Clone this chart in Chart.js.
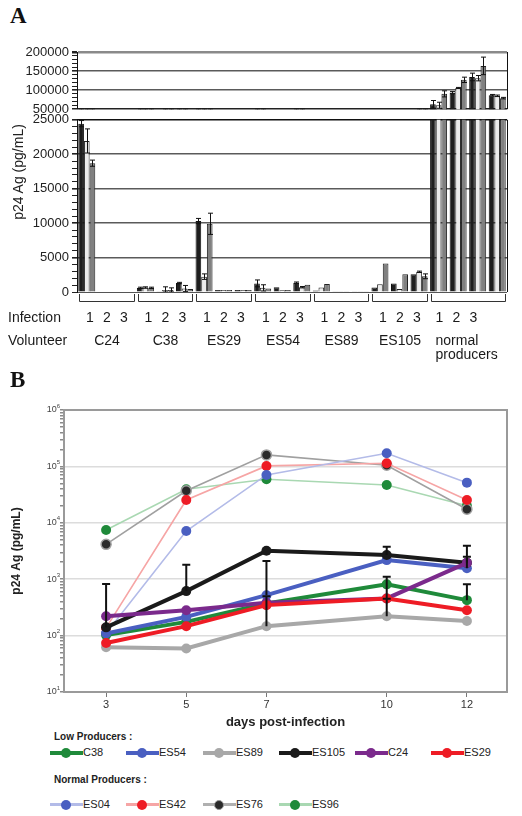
<!DOCTYPE html>
<html><head><meta charset="utf-8">
<script src="https://cdn.jsdelivr.net/npm/chart.js@4.4.1/dist/chart.umd.min.js"></script>
<style>
body{margin:0;background:#fff;width:522px;height:816px;position:relative;overflow:hidden;font-family:"Liberation Sans",Arial,sans-serif;}
canvas{position:absolute;left:0;}
.plab{position:absolute;font-family:"Liberation Serif","DejaVu Serif",serif;font-weight:bold;font-size:23px;color:#111;}
.ytitle{position:absolute;font-size:14px;color:#222;white-space:nowrap;transform-origin:center center;}
.lg{position:absolute;font-size:11px;color:#222;white-space:nowrap;}
.lgh{position:absolute;font-size:10px;font-weight:bold;color:#222;white-space:nowrap;}
.ln{position:absolute;}
.mk{position:absolute;border-radius:50%;}
</style></head><body>
<div class="plab" style="left:10px;top:3px">A</div>
<canvas id="cU" width="522" height="80" style="top:40px"></canvas>
<canvas id="cL" width="522" height="256" style="top:109px"></canvas>
<div class="ytitle" id="yA">p24 Ag (pg/mL)</div>
<div class="plab" style="left:10px;top:367px">B</div>
<canvas id="cB" width="522" height="335" style="top:395px"></canvas>
<div id="legend"></div>
<script>
// ---------- Panel A data ----------
const barCats = ['C24-1','C24-2','C24-3','C38-1','C38-2','C38-3','ES29-1','ES29-2','ES29-3','ES54-1','ES54-2','ES54-3','ES89-1','ES89-2','ES89-3','ES105-1','ES105-2','ES105-3','NP-1','NP-2','NP-3','NP-4'];
const barBlack = [24440,0,0,600,50,1300,10300,300,300,1250,700,1350,200,100,100,650,1230,2560,62800,93600,134600,86700];
const barLight = [21930,0,0,650,300,500,2230,300,300,600,250,700,650,100,100,1140,430,2930,60300,105600,131300,85100];
const barGray  = [18700,0,0,600,300,450,9900,300,300,500,300,1050,1150,100,100,4130,2560,2280,90200,127000,163600,79000];
const errBlack = [450,0,0,100,0,100,380,0,0,500,0,100,0,0,0,0,0,0,10000,3000,10000,2000];
const errLight = [1750,0,0,100,450,450,400,0,0,450,0,100,0,0,0,0,0,100,8000,1500,7000,2000];
const errGray  = [450,0,0,100,300,0,1540,0,0,0,0,0,0,0,0,0,0,350,8000,7000,23000,2000];
const volunteers = ['C24','C38','ES29','ES54','ES89','ES105','normal producers'];
const groupRanges = [[0,2],[3,5],[6,8],[9,11],[12,14],[15,17],[18,21]];
const upperTicks = [50000,100000,150000,200000];
const lowerTicks = [0,5000,10000,15000,20000,25000];

// ---------- Panel B data ----------
const days = [3,5,7,10,12];
const C38  = [102,175,372,810,425];
const ES54 = [109,215,521,2180,1560];
const ES89 = [62,59,147,221,182];
const ES105= [140,615,3190,2680,1950];
const C24  = [221,282,381,456,1950];
const ES29 = [74,147,347,456,282];
const ES04 = [110,7150,70600,171000,51500];
const ES42 = [137,25400,102000,114000,25400];
const ES76 = [4150,37000,160000,105000,17400];
const ES96 = [7450,39400,59200,46900,20100];
const upES105 = [820,1800,null,3760,3920];
const upES54  = [null,null,2100,null,2500];
const upC38   = [null,null,null,null,810];
const upES29  = [null,null,null,1100,null];
const upES89  = [null,null,500,450,null];
const logTicks = [10,100,1000,10000,100000,1000000];

Chart.defaults.font.family = '"Liberation Sans", Arial, sans-serif';
Chart.defaults.animation = false;

// ---------- shared bar helpers ----------
function barDatasets(){
  return [
    {data:barBlack, err:errBlack, backgroundColor:'#1e1e1e', borderColor:'#111', borderWidth:1},
    {data:barLight, err:errLight, backgroundColor:'#ececec', borderColor:'#222', borderWidth:1},
    {data:barGray,  err:errGray,  backgroundColor:'#808080', borderColor:'#222', borderWidth:1}
  ].map(d=>Object.assign(d,{barPercentage:1,categoryPercentage:0.87}));
}
const barErr = {id:'barErr', afterDatasetsDraw(chart){
  const {ctx, chartArea:a} = chart; const ys = chart.scales.y;
  ctx.save(); ctx.beginPath(); ctx.rect(a.left, a.top-2, a.right-a.left, a.bottom-a.top+2); ctx.clip();
  ctx.strokeStyle='#111'; ctx.lineWidth=1;
  chart.data.datasets.forEach((ds,i)=>{
    chart.getDatasetMeta(i).data.forEach((el,j)=>{
      const e = ds.err[j]; if(!e) return; const v = ds.data[j];
      if (v > ys.max) return;
      const x = Math.round(el.x)+0.5, y1 = ys.getPixelForValue(v+e), y0 = ys.getPixelForValue(Math.max(v-e,ys.min));
      ctx.beginPath(); ctx.moveTo(x,y0); ctx.lineTo(x,y1);
      ctx.moveTo(x-2.5,y1); ctx.lineTo(x+2.5,y1);
      ctx.moveTo(x-2.5,y0); ctx.lineTo(x+2.5,y0); ctx.stroke();
    });
  });
  ctx.restore();
}};
const frameA = {id:'frameA', afterDraw(chart){
  const {ctx, chartArea:a} = chart;
  ctx.save(); ctx.strokeStyle='#111'; ctx.lineWidth=1;
  ctx.beginPath(); ctx.moveTo(a.right+0.5,a.top); ctx.lineTo(a.right+0.5,a.bottom); ctx.stroke();
  ctx.restore();
}};
function yScaleA(min,max,step,majors,edgeTop,edgeBottom){
  return {
    min, max,
    afterFit(s){ s.width = 77; },
    afterBuildTicks(s){ const t=[]; for(let v=min; v<=max; v+=step) t.push({value:v}); s.ticks=t; },
    ticks:{autoSkip:false, font:{size:13}, color:'#222', padding:3,
      callback:(v)=> majors.includes(v) ? String(v) : ''},
    grid:{
      color:(c)=>{ const v=c.tick&&c.tick.value; if(v===edgeTop.v) return edgeTop.c; if(v===edgeBottom.v) return edgeBottom.c; return majors.includes(v)?'#5a5a5a':'rgba(0,0,0,0)'; },
      lineWidth:(c)=>{ const v=c.tick&&c.tick.value; if(v===edgeTop.v) return edgeTop.w; if(v===edgeBottom.v) return edgeBottom.w; return majors.includes(v)?1.6:1; },
      tickColor:'#222', tickLength:5, drawTicks:true
    },
    border:{display:true, color:'#111', width:1}
  };
}

// Upper part of broken axis
new Chart(document.getElementById('cU'), {
  type:'bar',
  data:{labels:barCats, datasets:barDatasets()},
  options:{responsive:false, layout:{padding:{top:12,bottom:10,left:0,right:15}},
    plugins:{legend:{display:false}, tooltip:{enabled:false}},
    scales:{x:{display:false}, y:yScaleA(50000,200000,10000,upperTicks,{v:200000,c:'#8a8a8a',w:2.5},{v:50000,c:'#222',w:1.5})}},
  plugins:[barErr, frameA]
});

// Lower part + group brackets and labels
const bracketPlugin = {id:'brackets', afterDraw(chart){
  const {ctx, chartArea:a} = chart; const xs = chart.scales.x;
  const cw = (a.right-a.left)/barCats.length;
  ctx.save(); ctx.strokeStyle='#333'; ctx.lineWidth=1; ctx.fillStyle='#1a1a1a';
  ctx.font='14px "Liberation Sans", Arial, sans-serif'; ctx.textBaseline='middle';
  const yB = a.bottom+9.5, yT = a.bottom+2;
  ctx.textAlign='left';
  ctx.fillText('Infection', 8, a.bottom+26);
  ctx.fillText('Volunteer', 8, a.bottom+49);
  groupRanges.forEach((g,k)=>{
    const x0 = Math.round(xs.getPixelForValue(g[0]) - cw/2 + 2)+0.5;
    const x1 = Math.round(xs.getPixelForValue(g[1]) + cw/2 - 2)+0.5;
    ctx.beginPath(); ctx.moveTo(x0,yT); ctx.lineTo(x0,yB); ctx.lineTo(x1,yB); ctx.lineTo(x1,yT); ctx.stroke();
    const cx = (x0+x1)/2;
    ctx.textAlign='center';
    if (k < 6){
      ['1','2','3'].forEach((d,i)=>ctx.fillText(d, cx+(i-1)*17, a.bottom+26));
      ctx.fillText(volunteers[k], cx, a.bottom+49);
    } else {
      ['1','2','3'].forEach((d,i)=>ctx.fillText(d, x0+8+i*17, a.bottom+26));
      ctx.textAlign='left';
      const w = volunteers[k].split(' ');
      ctx.fillText(w[0], x0+4, a.bottom+49);
      ctx.fillText(w[1], x0+4, a.bottom+63);
    }
  });
  ctx.restore();
}};
new Chart(document.getElementById('cL'), {
  type:'bar',
  data:{labels:barCats, datasets:barDatasets()},
  options:{responsive:false, layout:{padding:{top:8,bottom:73,left:0,right:15}},
    plugins:{legend:{display:false}, tooltip:{enabled:false}},
    scales:{x:{display:false}, y:yScaleA(0,25000,1000,lowerTicks,{v:25000,c:'#111',w:1.6},{v:0,c:'#555',w:1})}},
  plugins:[barErr, frameA, bracketPlugin]
});

// rotated y title for panel A (centered over both parts)
(function(){ const el=document.getElementById('yA'); const w=el.offsetWidth, h=el.offsetHeight;
  el.style.left=(18-w/2)+'px'; el.style.top=(172-h/2)+'px'; el.style.transform='rotate(-90deg)'; })();

// ---------- Panel B ----------
function low(label,data,color,up){ return {label,data:days.map((d,i)=>({x:d,y:data[i]})),up,borderColor:color,backgroundColor:color,borderWidth:4,pointRadius:5,pointBackgroundColor:color,pointBorderWidth:0,tension:0}; }
function norm(label,data,line,mark,ring){ return {label,data:days.map((d,i)=>({x:d,y:data[i]})),borderColor:line,backgroundColor:mark,borderWidth:1.6,pointRadius:5,pointBackgroundColor:mark,pointBorderColor:ring||mark,pointBorderWidth:ring?1.5:0,tension:0}; }
const dsB = [
  low('ES29',ES29,'#ee1c25',upES29),
  low('C24',C24,'#7b2a8c',null),
  low('ES105',ES105,'#1a1a1a',upES105),
  low('ES54',ES54,'#4a5fc1',upES54),
  low('C38',C38,'#1f8a3a',upC38),
  low('ES89',ES89,'#a8a8a8',upES89),
  norm('ES04',ES04,'#b3bbe8','#4a5fc1'),
  norm('ES42',ES42,'#f6a5a5','#ee1c25'),
  norm('ES76',ES76,'#a0a0a0','#2a2a2a','#a0a0a0'),
  norm('ES96',ES96,'#a9d8b2','#1f8a3a')
];
const errB = {id:'errB', afterDatasetsDraw(chart){
  const {ctx} = chart; const ys = chart.scales.y;
  ctx.save(); ctx.strokeStyle='#111'; ctx.lineWidth=2;
  chart.data.datasets.forEach((ds,i)=>{ if(!ds.up) return;
    chart.getDatasetMeta(i).data.forEach((el,j)=>{ const u=ds.up[j]; if(u==null) return;
      const x=el.x, y0=el.y, y1=ys.getPixelForValue(u);
      ctx.beginPath(); ctx.moveTo(x,y0); ctx.lineTo(x,y1); ctx.moveTo(x-4,y1); ctx.lineTo(x+4,y1); ctx.stroke(); });
  });
  ctx.restore();
}};
const frameB = {id:'frameB', afterDraw(chart){
  const {ctx, chartArea:a} = chart; const ys = chart.scales.y;
  ctx.save(); ctx.strokeStyle='#9a9a9a'; ctx.lineWidth=2;
  ctx.strokeRect(a.left, a.top, a.right-a.left, a.bottom-a.top);
  ctx.fillStyle='#444'; ctx.textBaseline='middle';
  logTicks.forEach(v=>{
    const y = ys.getPixelForValue(v); const e = Math.round(Math.log10(v));
    ctx.font='6px "Liberation Sans", Arial, sans-serif'; ctx.textAlign='right';
    ctx.fillText(String(e), 60, y-4);
    const ew = ctx.measureText(String(e)).width;
    ctx.font='9px "Liberation Sans", Arial, sans-serif';
    ctx.fillText('10', 60-ew, y);
  });
  ctx.restore();
}};
new Chart(document.getElementById('cB'), {
  type:'line',
  data:{datasets:dsB},
  options:{responsive:false, layout:{padding:{top:15,right:15,left:0,bottom:0}},
    plugins:{legend:{display:false}, tooltip:{enabled:false}},
    scales:{
      x:{type:'linear', min:1.95, max:13,
        afterBuildTicks(s){ s.ticks = days.map(v=>({value:v})); },
        afterFit(s){ s.height = 38; },
        ticks:{font:{size:11}, color:'#333', padding:1, autoSkip:false},
        grid:{drawOnChartArea:false, drawTicks:true, tickLength:5, tickColor:'#777'},
        border:{display:false},
        title:{display:true, text:'days post-infection', font:{size:13, weight:'bold'}, color:'#222', padding:{top:3,bottom:0}}
      },
      y:{type:'logarithmic', min:10, max:1000000,
        afterBuildTicks(s){ const t=[]; for(let e=1;e<6;e++) for(let m=1;m<10;m++) t.push({value:m*Math.pow(10,e)}); t.push({value:1000000}); s.ticks=t; },
        afterFit(s){ s.width = 64; },
        ticks:{display:false},
        grid:{color:(c)=>{ const v=c.tick&&c.tick.value; const l=Math.log10(v); return (Math.abs(l-Math.round(l))<1e-9 && v>10 && v<1000000)?'#dcdcdc':'rgba(0,0,0,0)'; },
          lineWidth:1.5, tickColor:'#8a8a8a', tickLength:4, drawTicks:true},
        border:{display:false},
        title:{display:true, text:'p24 Ag (pg/mL)', font:{size:12, weight:'bold'}, color:'#222', padding:{top:9,bottom:0}}
      }
    }},
  plugins:[errB, frameB]
});

// ---------- Legend (HTML) ----------
const lowLegend = [['C38','#1f8a3a',50],['ES54','#4a5fc1',126],['ES89','#a8a8a8',203],['ES105','#1a1a1a',279],['C24','#7b2a8c',355],['ES29','#ee1c25',431]];
const normLegend = [['ES04','#b3bbe8','#4a5fc1',50],['ES42','#f6a5a5','#ee1c25',126],['ES76','#b0b0b0','#2a2a2a',203],['ES96','#a9d8b2','#1f8a3a',279]];
const L = document.getElementById('legend');
function add(html){ L.insertAdjacentHTML('beforeend', html); }
add('<div class="lgh" style="left:54px;top:731px">Low Producers :</div>');
add('<div class="lgh" style="left:54px;top:774px">Normal Producers :</div>');
lowLegend.forEach(([n,c,x])=>{
  add(`<div class="ln" style="left:${x}px;top:751px;width:33px;height:4px;background:${c}"></div>`);
  add(`<div class="mk" style="left:${x+11}px;top:748px;width:10px;height:10px;background:${c}"></div>`);
  add(`<div class="lg" style="left:${x+33}px;top:746px">${n}</div>`);
});
normLegend.forEach(([n,lc,mc,x])=>{
  add(`<div class="ln" style="left:${x}px;top:803px;width:33px;height:3px;background:${lc}"></div>`);
  add(`<div class="mk" style="left:${x+11}px;top:800px;width:10px;height:10px;background:${mc}${n==='ES76'?';box-sizing:border-box;border:1.5px solid #999':''}"></div>`);
  add(`<div class="lg" style="left:${x+33}px;top:798px">${n}</div>`);
});
</script>
</body></html>
